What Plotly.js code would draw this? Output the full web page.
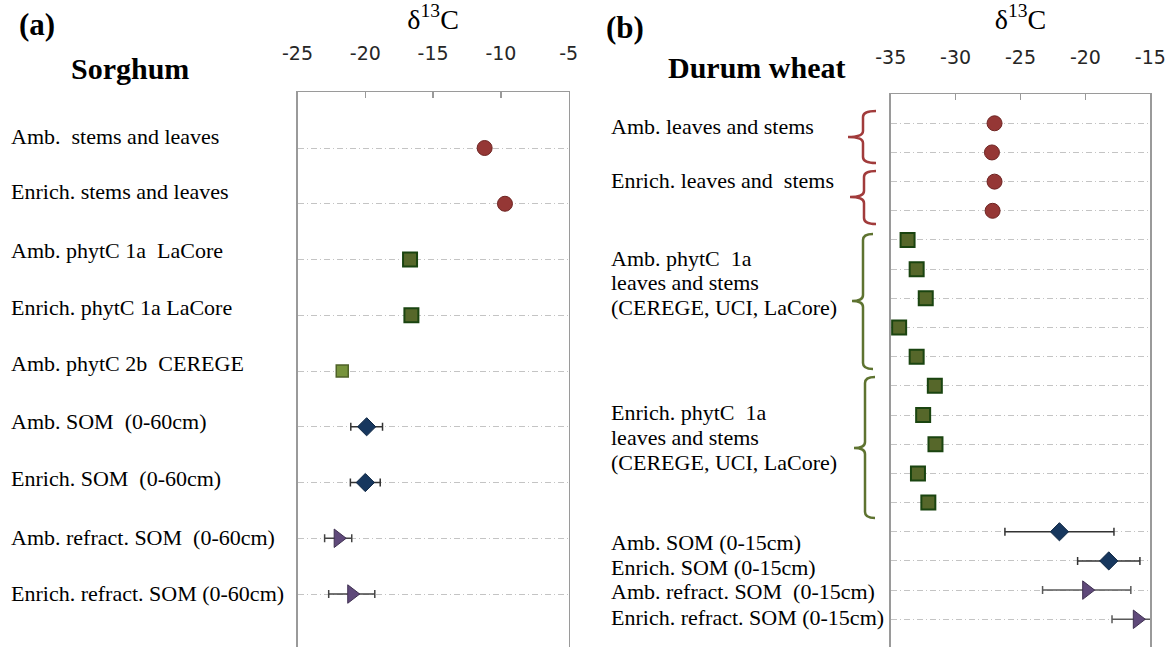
<!DOCTYPE html>
<html>
<head>
<meta charset="utf-8">
<script src="https://cdn.plot.ly/plotly-3.0.1.min.js"></script>
<style>html,body{margin:0;padding:0;background:#fff;}#chart{width:1170px;height:647px;}</style>
</head>
<body>
<div id="chart"></div>
<script>
// ---------- DATA ----------
// (a) Sorghum
const sorghumLabels = ["Amb.\u00a0 stems and leaves", "Enrich. stems and leaves", "Amb. phytC 1a\u00a0 LaCore",
  "Enrich. phytC 1a LaCore", "Amb. phytC 2b\u00a0 CEREGE", "Amb. SOM\u00a0 (0-60cm)", "Enrich. SOM\u00a0 (0-60cm)",
  "Amb. refract. SOM\u00a0 (0-60cm)", "Enrich. refract. SOM (0-60cm)"];
const sorghumPlantRows = [1, 2];
const sorghumPlantD13C = [-11.2, -9.7];
const sorghumPhyt1aRows = [3, 4];
const sorghumPhyt1aD13C = [-16.7, -16.6];
const sorghumPhyt2bRows = [5];
const sorghumPhyt2bD13C = [-21.7];
const sorghumSomRows = [6, 7];
const sorghumSomD13C = [-19.9, -20.0];
const sorghumSomErr = [1.17, 1.1];
const sorghumRefrRows = [8, 9];
const sorghumRefrD13C = [-22.0, -21.0];
const sorghumRefrErr = [1.0, 1.7];

// (b) Durum wheat
const wheatPlantRows = [1, 2, 3, 4];
const wheatPlantD13C = [-27.0, -27.2, -27.0, -27.15];
const wheatPhytRows = [5, 6, 7, 8, 9, 10, 11, 12, 13, 14];
const wheatPhytD13C = [-33.7, -33.0, -32.3, -34.35, -33.0, -31.6, -32.5, -31.55, -32.9, -32.1];
const wheatSomRows = [15, 16];
const wheatSomD13C = [-22.0, -18.2];
const wheatSomErr = [4.2, 2.4];
const wheatRefrRows = [17, 18];
const wheatRefrD13C = [-19.9, -16.0];
const wheatRefrErr = [3.4, 1.95];
const wheatLabels = [
  ["Amb. leaves and stems"],
  ["Enrich. leaves and\u00a0 stems"],
  ["Amb. phytC\u00a0 1a", "leaves and stems", "(CEREGE, UCI, LaCore)"],
  ["Enrich. phytC\u00a0 1a", "leaves and stems", "(CEREGE, UCI, LaCore)"],
  ["Amb. SOM (0-15cm)"],
  ["Enrich. SOM (0-15cm)"],
  ["Amb. refract. SOM\u00a0 (0-15cm)"],
  ["Enrich. refract. SOM (0-15cm)"]
];

// x-axis ticks
const sorghumTicks = [-25, -20, -15, -10, -5];
const wheatTicks = [-35, -30, -25, -20, -15];

// ---------- LAYOUT HELPERS ----------
const W = 1170, H = 647;
const px = x => x / W;
const py = y => 1 - y / H;

const C = {
  circle: '#953735', circleLine: '#6e2422',
  square: '#56672a', squareLine: '#1a4410',
  lsquare: '#77933c', lsquareLine: '#4f6228',
  diamond: '#17375e', diamondLine: '#0f2743',
  tri: '#5f497a', triLine: '#3f3151',
  err: '#333333', grid: '#c4c4c4', axis: '#9a9a9a'
};

function errs(arr, color) {
  return {type: 'data', array: arr, visible: true, color: color || C.err, thickness: 1.5, width: 4};
}

const traces = [
  {x: sorghumPlantD13C, y: sorghumPlantRows, xaxis: 'x', yaxis: 'y', mode: 'markers', type: 'scatter',
   marker: {symbol: 'circle', size: 15, color: C.circle, line: {color: C.circleLine, width: 1}}},
  {x: sorghumPhyt1aD13C, y: sorghumPhyt1aRows, xaxis: 'x', yaxis: 'y', mode: 'markers', type: 'scatter',
   marker: {symbol: 'square', size: 14, color: C.square, line: {color: C.squareLine, width: 2}}},
  {x: sorghumPhyt2bD13C, y: sorghumPhyt2bRows, xaxis: 'x', yaxis: 'y', mode: 'markers', type: 'scatter',
   marker: {symbol: 'square', size: 12, color: C.lsquare, line: {color: C.lsquareLine, width: 1.5}}},
  {x: sorghumSomD13C, y: sorghumSomRows, xaxis: 'x', yaxis: 'y', mode: 'markers', type: 'scatter',
   error_x: errs(sorghumSomErr),
   marker: {symbol: 'diamond', size: 14, color: C.diamond, line: {color: C.diamondLine, width: 1}}},
  {x: sorghumRefrD13C, y: sorghumRefrRows, xaxis: 'x', yaxis: 'y', mode: 'markers', type: 'scatter',
   error_x: errs(sorghumRefrErr, '#444'),
   marker: {symbol: 'triangle-right', size: 16, color: C.tri, line: {color: C.triLine, width: 1}}},

  {x: wheatPlantD13C, y: wheatPlantRows, xaxis: 'x2', yaxis: 'y2', mode: 'markers', type: 'scatter',
   marker: {symbol: 'circle', size: 15, color: C.circle, line: {color: C.circleLine, width: 1}}},
  {x: wheatPhytD13C, y: wheatPhytRows, xaxis: 'x2', yaxis: 'y2', mode: 'markers', type: 'scatter',
   marker: {symbol: 'square', size: 14, color: C.square, line: {color: C.squareLine, width: 2}}},
  {x: wheatSomD13C, y: wheatSomRows, xaxis: 'x2', yaxis: 'y2', mode: 'markers', type: 'scatter',
   error_x: errs(wheatSomErr),
   marker: {symbol: 'diamond', size: 14, color: C.diamond, line: {color: C.diamondLine, width: 1}}},
  {x: wheatRefrD13C, y: wheatRefrRows, xaxis: 'x2', yaxis: 'y2', mode: 'markers', type: 'scatter',
   error_x: errs(wheatRefrErr, '#595959'),
   marker: {symbol: 'triangle-right', size: 16, color: C.tri, line: {color: C.triLine, width: 1}}}
];

const tickFont = {family: '"DejaVu Sans", sans-serif', size: 19, color: '#262626'};
const titleFont = {family: '"Liberation Serif", "Times New Roman", serif', size: 28, color: '#000'};
const labelFont = {family: '"Liberation Serif", "Times New Roman", serif', size: 22, color: '#000'};
const gridDash = '6px,3px,1px,3px';

function xAx(domain, ticks, anchor, standoff) {
  return {
    domain: domain, range: [ticks[0], ticks[ticks.length - 1]], anchor: anchor, side: 'top',
    tickvals: ticks, ticktext: ticks.map(String), ticks: 'inside', ticklen: 6, tickwidth: 1.3, tickcolor: C.axis,
    showline: true, linecolor: C.axis, linewidth: 1.5, mirror: false, showgrid: false, zeroline: false,
    tickfont: tickFont, ticklabelstandoff: standoff, fixedrange: true,
    title: {text: 'δ<sup>13</sup>C', font: titleFont, standoff: 12}
  };
}
function yAx(domain, range, rows, anchor) {
  return {
    domain: domain, range: range, anchor: anchor, tickvals: rows, showticklabels: false, ticks: '',
    showgrid: true, gridcolor: C.grid, gridwidth: 1, griddash: gridDash,
    showline: true, mirror: true, linecolor: C.axis, linewidth: 1.5, zeroline: false, fixedrange: true
  };
}

const sorghumAllRows = [1, 2, 3, 4, 5, 6, 7, 8, 9];
const wheatAllRows = wheatPlantRows.concat(wheatPhytRows, wheatSomRows, wheatRefrRows);

const annotations = [];
// panel letters and crop names
const bold = {family: '"Liberation Serif", "Times New Roman", serif', size: 31, color: '#000'};
annotations.push({text: '<b>(a)</b>', x: px(17), y: py(25), xref: 'paper', yref: 'paper', xanchor: 'left', yanchor: 'middle', showarrow: false, font: bold});
annotations.push({text: '<b>Sorghum</b>', x: px(69), y: py(68), xref: 'paper', yref: 'paper', xanchor: 'left', yanchor: 'middle', showarrow: false, font: {...bold, size: 30}});
annotations.push({text: '<b>(b)</b>', x: px(604), y: py(28), xref: 'paper', yref: 'paper', xanchor: 'left', yanchor: 'middle', showarrow: false, font: bold});
annotations.push({text: '<b>Durum wheat</b>', x: px(666), y: py(67), xref: 'paper', yref: 'paper', xanchor: 'left', yanchor: 'middle', showarrow: false, font: {...bold, size: 30}});

// row labels (a)
const sorghumLabelY = [136, 192, 250, 307, 363, 421, 478, 537, 593];
sorghumLabels.forEach((t, i) => annotations.push({text: t, x: px(9), y: py(sorghumLabelY[i]), xref: 'paper', yref: 'paper',
  xanchor: 'left', yanchor: 'middle', showarrow: false, font: labelFont}));
// row labels (b)
const wheatLabelY = [[127], [180], [258, 283, 307], [412, 437, 462], [542], [567], [591], [617]];
wheatLabels.forEach((lines, i) => lines.forEach((t, j) => annotations.push({text: t, x: px(609), y: py(wheatLabelY[i][j]),
  xref: 'paper', yref: 'paper', xanchor: 'left', yanchor: 'middle', showarrow: false, font: labelFont})));

// braces
function brace(xTip, xMid, xEnd, yTop, yMid, yBot) {
  const r = 6;
  const P = (x, y) => px(x).toFixed(5) + ',' + py(y).toFixed(5);
  return 'M' + P(xEnd, yTop) + ' Q' + P(xMid, yTop) + ' ' + P(xMid, yTop + r) +
    ' L' + P(xMid, yMid - r) + ' Q' + P(xMid, yMid) + ' ' + P(xTip, yMid) +
    ' Q' + P(xMid, yMid) + ' ' + P(xMid, yMid + r) +
    ' L' + P(xMid, yBot - r) + ' Q' + P(xMid, yBot) + ' ' + P(xEnd, yBot);
}
const braceRed = '#a13b3b', braceGreen = '#5e7330';
const shapes = [
  {type: 'path', xref: 'paper', yref: 'paper', path: brace(848, 863, 876, 111, 137, 163), line: {color: braceRed, width: 2.5}},
  {type: 'path', xref: 'paper', yref: 'paper', path: brace(850, 864, 876, 171, 197, 224), line: {color: braceRed, width: 2.5}},
  {type: 'path', xref: 'paper', yref: 'paper', path: brace(852, 863, 873, 234, 301, 369), line: {color: braceGreen, width: 2.5}},
  {type: 'path', xref: 'paper', yref: 'paper', path: brace(854, 865, 875, 377, 448, 518), line: {color: braceGreen, width: 2.5}}
];

const layout = {
  width: W, height: H, margin: {l: 0, r: 0, t: 0, b: 0},
  paper_bgcolor: '#fff', plot_bgcolor: '#fff', showlegend: false,
  xaxis: xAx([px(297.5), px(568.7)], sorghumTicks, 'y', 23),
  yaxis: yAx([0, py(92.25)], [9.95, 0], sorghumAllRows, 'x'),
  xaxis2: xAx([px(890.7), px(1150.3)], wheatTicks, 'y2', 21),
  yaxis2: yAx([0, py(94.1)], [18.95, 0], wheatAllRows, 'x2'),
  annotations: annotations, shapes: shapes
};

Plotly.newPlot('chart', traces, layout, {displayModeBar: false, staticPlot: true});
</script>
</body>
</html>
